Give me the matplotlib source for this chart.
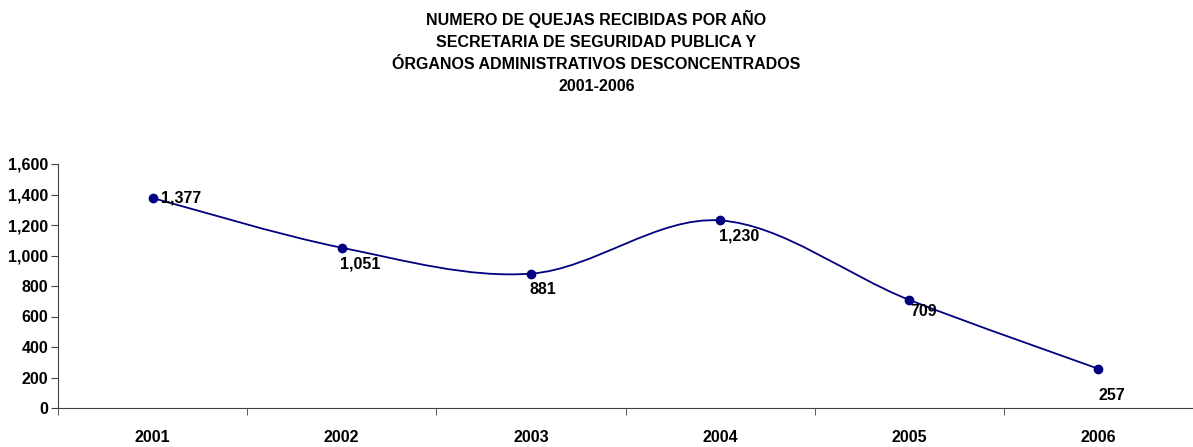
import numpy as np
import matplotlib.pyplot as plt
from matplotlib.path import Path
from matplotlib.patches import PathPatch

plt.rcParams['font.family'] = ['Liberation Sans Narrow', 'Liberation Sans', 'DejaVu Sans']
plt.rcParams['font.weight'] = 'bold'

years = ['2001', '2002', '2003', '2004', '2005', '2006']
quejas = [1377, 1051, 881, 1230, 709, 257]
etiquetas = ['1,377', '1,051', '881', '1,230', '709', '257']

title = ('NUMERO DE QUEJAS RECIBIDAS POR AÑO\n'
         'SECRETARIA DE SEGURIDAD PUBLICA Y\n'
         'ÓRGANOS ADMINISTRATIVOS DESCONCENTRADOS\n'
         '2001-2006')

navy = '#000080'
fs = 11.5

fig = plt.figure(figsize=(11.93, 4.47), dpi=100)
ax = fig.add_axes([58 / 1193, 39 / 447, 1135 / 1193, 244 / 447])

x = np.arange(len(years))
y = np.array(quejas, dtype=float)

# smoothed line (Catmull-Rom -> cubic bezier, like Excel's "smoothed line")
pts = np.column_stack([x, y])
ext = np.vstack([pts[0], pts, pts[-1]])
verts = [tuple(pts[0])]
codes = [Path.MOVETO]
for i in range(len(pts) - 1):
    p0, p1, p2, p3 = ext[i], ext[i + 1], ext[i + 2], ext[i + 3]
    c1 = p1 + (p2 - p0) / 6
    c2 = p2 - (p3 - p1) / 6
    verts += [tuple(c1), tuple(c2), tuple(p2)]
    codes += [Path.CURVE4] * 3
ax.add_patch(PathPatch(Path(verts, codes), facecolor='none', edgecolor=navy, lw=1.3))
ax.plot(x, y, 'o', color=navy, ms=6, zorder=3)

# data labels
offsets = [(6, 0, 'left', 'center'), (-1, -6, 'left', 'top'), (-1, -6, 'left', 'top'),
           (-1, -6, 'left', 'top'), (1, -3, 'left', 'top'), (0, -14, 'left', 'top')]
for xi, yi, lab, (dx, dy, ha, va) in zip(x, y, etiquetas, offsets):
    ax.annotate(lab, (xi, yi), xytext=(dx, dy), textcoords='offset points',
                ha=ha, va=va, fontsize=fs, fontweight='bold')

ax.set_xlim(-0.5, 5.474)
ax.set_ylim(0, 1600)
ax.set_yticks(range(0, 1601, 200))
ax.set_yticklabels([f'{v:,}' for v in range(0, 1601, 200)])
ax.set_xticks(x)
ax.set_xticklabels(years)
ax.set_xticks(np.arange(-0.5, 5.6, 1), minor=True)
ax.tick_params(axis='x', which='major', length=0, pad=16, labelsize=fs)
ax.tick_params(axis='x', which='minor', length=5, direction='out', color='#404040')
ax.tick_params(axis='y', length=5, direction='out', color='#404040', labelsize=fs, pad=2)
for s in ['top', 'right']:
    ax.spines[s].set_visible(False)
for s in ['left', 'bottom']:
    ax.spines[s].set_color('#404040')

fig.text(0.5, 0.978, title, ha='center', va='top', fontsize=fs, fontweight='bold',
         linespacing=1.6)

fig.savefig('out.png', dpi=100)
